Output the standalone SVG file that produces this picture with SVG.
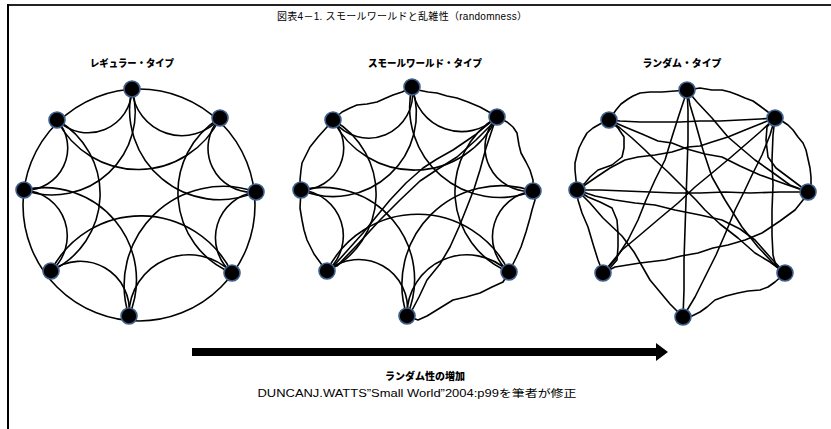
<svg xmlns="http://www.w3.org/2000/svg" width="831" height="429" viewBox="0 0 831 429">
<style>
.e{fill:none;stroke:#000;stroke-width:1.6;stroke-linejoin:round;stroke-linecap:round}
.n{fill:#000;stroke:#3d5f8c;stroke-width:1.6}
.h{font-family:"Noto Sans CJK JP","Noto Sans",sans-serif;font-weight:900;font-size:10px;fill:#000}
.t{font-family:"Liberation Sans","Noto Sans CJK JP",sans-serif;font-size:10px;fill:#000}
</style>
<rect width="831" height="429" fill="#fff"/>
<g id="frame">
<line x1="7" y1="5" x2="831" y2="5" stroke="#222" stroke-width="2"/>
<line x1="8" y1="4" x2="8" y2="429" stroke="#000" stroke-width="2"/>
</g>
<text id="title" class="t" x="402" y="20" text-anchor="middle" textLength="250">図表4－1. スモールワールドと乱雑性（randomness）</text>
<text id="label-regular" class="h" x="132" y="67" text-anchor="middle" textLength="84" lengthAdjust="spacingAndGlyphs">レギュラー・タイプ</text>
<text id="label-smallworld" class="h" x="425" y="67" text-anchor="middle" textLength="114" lengthAdjust="spacingAndGlyphs">スモールワールド・タイプ</text>
<text id="label-random" class="h" x="682" y="67" text-anchor="middle" textLength="79" lengthAdjust="spacingAndGlyphs">ランダム・タイプ</text>

<g id="connectors">
<!-- regular -->
<circle class="e" cx="139" cy="205" r="116"/>
<path class="e" d="M132,89 A50,50 0 0 0 220,118"/>
<path class="e" d="M220,118 A44,44 0 0 0 256,192"/>
<path class="e" d="M256,192 A46,46 0 0 0 232,273"/>
<path class="e" d="M232,273 A60,60 0 0 0 129,316"/>
<path class="e" d="M129,316 A49,49 0 0 0 51,271"/>
<path class="e" d="M51,271 A46,46 0 0 0 24,190"/>
<path class="e" d="M24,190 A42,42 0 0 0 57,120"/>
<path class="e" d="M57,120 A44,44 0 0 0 132,89"/>
<path class="e" d="M132,89 A90,90 0 0 0 256,192"/>
<path class="e" d="M220,118 A87,87 0 0 0 232,273"/>
<path class="e" d="M256,192 A99,99 0 0 0 129,316"/>
<path class="e" d="M232,273 A101,101 0 0 0 51,271"/>
<path class="e" d="M129,316 A92,92 0 0 0 24,190"/>
<path class="e" d="M51,271 A85,85 0 0 0 57,120"/>
<path class="e" d="M24,190 A83,83 0 0 0 132,89"/>
<path class="e" d="M57,120 A91,91 0 0 0 220,118"/>
<!-- small world -->
<path class="e" d="M333,120 L342,112 L350,108 L357,105 L367,104 L377,102 L386,98 L393,95 L402,92 L412,87"/>
<path class="e" d="M412,87 L418,90 L428,92 L437,93 L447,96 L457,98 L468,102 L480,107 L489,112 L497,117"/>
<path class="e" d="M497,117 L507,122 L513,127 L517,133 L519,145 L521,153 L526,162 L530,170 L533,180 L533,191"/>
<path class="e" d="M533,191 L535,200 L532,210 L530,218 L526,232 L521,247 L516,258 L509,272"/>
<path class="e" d="M509,272 L503,282 L492,287 L480,293 L466,297 L453,300 L440,308 L427,316 L418,320 L407,316"/>
<path class="e" d="M327,271 L322,265 L314,254 L307,240 L304,230 L302,220 L300,208 L301,190"/>
<path class="e" d="M301,190 L300,180 L301,170 L302,163 L306,155 L310,147 L318,137 L327,127 L333,120"/>
<path class="e" d="M412,87 A50,50 0 0 0 497,117"/>
<path class="e" d="M497,117 A44,44 0 0 0 533,191"/>
<path class="e" d="M533,191 A46,46 0 0 0 509,272"/>
<path class="e" d="M509,272 A60,60 0 0 0 407,316"/>
<path class="e" d="M407,316 A49,49 0 0 0 327,271"/>
<path class="e" d="M327,271 A46,46 0 0 0 301,190"/>
<path class="e" d="M301,190 A42,42 0 0 0 333,120"/>
<path class="e" d="M333,120 A44,44 0 0 0 412,87"/>
<path class="e" d="M412,87 A90,90 0 0 0 533,191"/>
<path class="e" d="M497,117 A87,87 0 0 0 509,272"/>
<path class="e" d="M533,191 A99,99 0 0 0 407,316"/>
<path class="e" d="M509,272 A101,101 0 0 0 327,271"/>
<path class="e" d="M407,316 A92,92 0 0 0 301,190"/>
<path class="e" d="M327,271 A85,85 0 0 0 333,120"/>
<path class="e" d="M301,190 A83,83 0 0 0 412,87"/>
<path class="e" d="M333,120 A91,91 0 0 0 497,117"/>
<path class="e" d="M497,117 L475,135 L453,150 L437,159 L423,168 L406,183 L390,200 L376,217 L363,233 L346,252 L330,270"/>
<path class="e" d="M495,121 L476,140 L457,157 L438,169 L420,181 L400,200 L380,220 L358,244 L337,266"/>
<path class="e" d="M497,117 L493,127 L486,148 L480,170 L474,189 L467,207 L459,227 L450,247 L440,264 L427,280 L419,297 L410,314"/>
<!-- random -->
<path class="e" d="M687,90 L675,91 L662,92 L650,92 L640,93 L633,96 L628,99 L621,104 L616,110 L609,120"/>
<path class="e" d="M687,90 L700,88 L712,90 L722,90 L730,92 L738,95 L745,98 L753,101 L760,106 L768,112 L775,118"/>
<path class="e" d="M609,120 L600,124 L593,128 L587,133 L583,140 L579,148 L577,155 L575,163 L575,170 L576,180 L577,190"/>
<path class="e" d="M775,118 L782,121 L788,125 L793,130 L798,137 L803,143 L806,150 L808,159 L810,168 L811,177 L811,185 L808,192"/>
<path class="e" d="M808,192 L803,200 L795,210 L780,221 L762,233 L745,240 L728,245 L713,248 L698,253 L681,256 L665,260 L640,263 L615,267 L603,273"/>
<path class="e" d="M785,273 L775,282 L768,287 L760,290 L748,291 L738,293 L726,296 L715,300 L707,307 L700,312 L692,316 L683,317"/>
<path class="e" d="M577,190 L578,200 L582,213 L588,227 L593,244 L598,260 L603,273"/>
<path class="e" d="M577,190 L588,197 L600,202 L612,208 L617,220 L618,233 L618,247 L617,260 L610,268 L603,273"/>
<path class="e" d="M577,190 L590,203 L603,218 L622,236 L634,252 L642,266 L650,280 L660,292 L670,304 L683,317"/>
<path class="e" d="M687,90 L684,100 L679,115 L672,137 L665,160 L655,180 L646,200 L638,220 L628,240 L615,260 L603,273"/>
<path class="e" d="M687,90 L688,110 L688,140 L687,170 L686,200 L685,230 L684,260 L684,290 L683,317"/>
<path class="e" d="M687,90 L690,105 L696,125 L703,150 L712,177 L725,200 L742,227 L758,247 L772,262 L785,273"/>
<path class="e" d="M687,90 L697,102 L712,118 L728,137 L742,149 L755,160 L772,172 L790,185 L808,192"/>
<path class="e" d="M775,118 L760,119 L740,120 L720,121 L700,121 L680,122 L660,122 L640,122 L620,121 L609,120"/>
<path class="e" d="M775,118 L760,124 L745,130 L728,137 L712,142 L700,146 L688,147 L672,152 L655,155 L638,157 L625,160 L610,168 L595,178 L582,187"/>
<path class="e" d="M775,118 L760,132 L745,145 L730,158 L712,173 L695,187 L678,203 L660,218 L640,235 L622,250 L612,262 L603,273"/>
<path class="e" d="M775,118 L770,135 L762,155 L752,175 L744,192 L735,210 L726,232 L716,255 L705,277 L695,297 L683,317"/>
<path class="e" d="M775,118 L773,135 L772,160 L773,185 L772,210 L772,235 L773,255 L776,266 L785,273"/>
<path class="e" d="M775,118 L767,127 L766,140 L768,157 L776,168 L788,177 L800,186 L808,192"/>
<path class="e" d="M609,120 L625,127 L642,134 L658,141 L672,143 L687,149 L705,154 L722,157 L740,166 L760,175 L785,184 L808,192"/>
<path class="e" d="M609,120 L620,128 L632,138 L645,150 L655,160 L668,172 L682,186 L696,200 L705,210 L720,224 L738,238 L755,253 L770,262 L785,273"/>
<path class="e" d="M609,120 L618,128 L624,137 L624,148 L622,157 L612,165 L598,170 L590,177 L585,183 L577,190"/>
<path class="e" d="M577,190 L600,190 L625,191 L650,192 L675,193 L700,193 L725,192 L750,193 L780,192 L808,192"/>
<path class="e" d="M577,190 L595,196 L615,200 L635,203 L655,205 L675,210 L700,215 L722,220 L740,229 L755,240 L770,257 L785,273"/>
</g>

<g id="nodes-regular">
<circle id="r0" class="n" cx="132" cy="89" r="8"/>
<circle id="r1" class="n" cx="220" cy="118" r="8"/>
<circle id="r2" class="n" cx="256" cy="192" r="8"/>
<circle id="r3" class="n" cx="232" cy="273" r="8"/>
<circle id="r4" class="n" cx="129" cy="316" r="8"/>
<circle id="r5" class="n" cx="51" cy="271" r="8"/>
<circle id="r6" class="n" cx="24" cy="190" r="8"/>
<circle id="r7" class="n" cx="57" cy="120" r="8"/>
</g>
<g id="nodes-smallworld">
<circle id="s0" class="n" cx="412" cy="87" r="8"/>
<circle id="s1" class="n" cx="497" cy="117" r="8"/>
<circle id="s2" class="n" cx="533" cy="191" r="8"/>
<circle id="s3" class="n" cx="509" cy="272" r="8"/>
<circle id="s4" class="n" cx="407" cy="316" r="8"/>
<circle id="s5" class="n" cx="327" cy="271" r="8"/>
<circle id="s6" class="n" cx="301" cy="190" r="8"/>
<circle id="s7" class="n" cx="333" cy="120" r="8"/>
</g>
<g id="nodes-random">
<circle id="q0" class="n" cx="687" cy="90" r="8"/>
<circle id="q1" class="n" cx="775" cy="118" r="8"/>
<circle id="q2" class="n" cx="808" cy="192" r="8"/>
<circle id="q3" class="n" cx="785" cy="273" r="8"/>
<circle id="q4" class="n" cx="683" cy="317" r="8"/>
<circle id="q5" class="n" cx="603" cy="273" r="8"/>
<circle id="q6" class="n" cx="577" cy="190" r="8"/>
<circle id="q7" class="n" cx="609" cy="120" r="8"/>
</g>

<g id="arrow">
<rect x="192" y="348" width="466" height="8" fill="#000"/>
<polygon points="656,343 668,352 656,361" fill="#000"/>
</g>
<text id="arrow-label" class="h" x="425" y="380" text-anchor="middle" font-size="12">ランダム性の増加</text>
<text id="source" class="t" x="417" y="397" text-anchor="middle" font-size="12" textLength="319" lengthAdjust="spacingAndGlyphs">DUNCANJ.WATTS”Small World”2004:p99を筆者が修正</text>
</svg>
